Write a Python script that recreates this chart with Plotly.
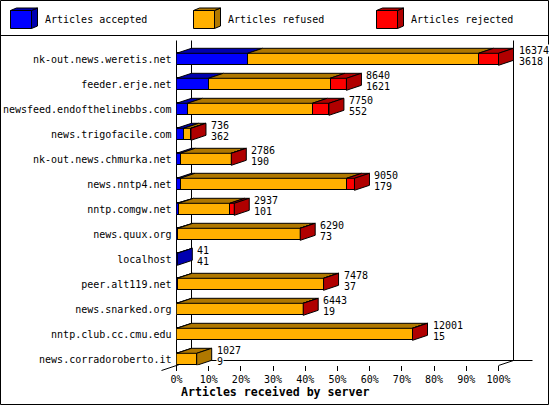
import plotly.graph_objects as go

servers = ["nk-out.news.weretis.net", "feeder.erje.net", "newsfeed.endofthelinebbs.com",
           "news.trigofacile.com", "nk-out.news.chmurka.net", "news.nntp4.net",
           "nntp.comgw.net", "news.quux.org", "localhost", "peer.alt119.net",
           "news.snarked.org", "nntp.club.cc.cmu.edu", "news.corradoroberto.it"]
received = [16374, 8640, 7750, 736, 2786, 9050, 2937, 6290, 41, 7478, 6443, 12001, 1027]
accepted = [3618, 1621, 552, 362, 190, 179, 101, 73, 41, 37, 19, 15, 9]
refused = [11739, 6185, 6353, 369, 2586, 8471, 2606, 6209, 0, 7436, 6419, 11974, 1018]
rejected = [1017, 834, 845, 5, 10, 400, 230, 8, 0, 5, 5, 12, 0]
percent_ticks = [0, 10, 20, 30, 40, 50, 60, 70, 80, 90, 100]

series_names = ["Articles accepted", "Articles refused", "Articles rejected"]
front_colors = ["#0000ff", "#ffb000", "#ff0000"]
dark_colors = ["#0000b0", "#b07800", "#b00000"]

W, H = 550, 405
FONT = "DejaVu Sans Mono"

# plot box in pixels, 100% sits at RIGHT
LEFT, RIGHT, TOP, BOTTOM = 176.5, 498.5, 40.3, 365.3
max_total = max(received)
DEPTH_X = 15 / (RIGHT - LEFT) * max_total
DEPTH_Y = 5 / 25
# axis runs on past 100% so the depth faces and the first labels are not clipped
OVERRUN = 1.15

row_y = [i + 0.76 for i in range(len(servers))]
BAR_H = 0.48


def px(x):
    return x / W


def py(y):
    return 1 - y / H


def line(x0, y0, x1, y1):
    return dict(type="line", xref="paper", yref="paper", x0=px(x0), y0=py(y0), x1=px(x1), y1=py(y1),
                line=dict(color="black", width=1), layer="below")


def poly(xs, ys, color):
    return go.Scatter(x=xs + xs[:1], y=ys + ys[:1], mode="lines", fill="toself", fillcolor=color,
                      line=dict(color="black", width=1), hoverinfo="skip", showlegend=False, cliponaxis=False)


fig = go.Figure()

stacks = [accepted, refused, rejected]
for values, name, color in zip(stacks, series_names, front_colors):
    fig.add_trace(go.Bar(y=row_y, x=values, orientation="h", width=BAR_H, name=name,
                         marker=dict(color=color, line=dict(color="black", width=1)), showlegend=False))

# top and side faces of the fake 3d bars
for i, y in enumerate(row_y):
    top = y - BAR_H / 2
    bottom = y + BAR_H / 2
    start = 0
    last_color = None
    for values, dark in zip(stacks, dark_colors):
        v = values[i]
        if v == 0:
            continue
        end = start + v
        fig.add_trace(poly([start, start + DEPTH_X, end + DEPTH_X, end],
                           [top, top - DEPTH_Y, top - DEPTH_Y, top], dark))
        start = end
        last_color = dark
    fig.add_trace(poly([start, start + DEPTH_X, start + DEPTH_X, start],
                       [top, top - DEPTH_Y, bottom - DEPTH_Y, bottom], last_color))

shapes = [
    dict(type="rect", xref="paper", yref="paper", x0=px(0.5), y0=py(0.5), x1=px(548.5), y1=py(404.5),
         line=dict(color="black", width=1), layer="below"),
    line(0.5, 35.5, 548.5, 35.5),
    line(176.5, 40.5, 176.5, 365.5),
    line(191.5, 40.5, 191.5, 360.5),
    line(513.5, 40.5, 513.5, 360.5),
    line(191.5, 360.5, 532.5, 360.5),
    line(161.5, 370.5, 191.5, 360.5),
    line(498.5, 365.5, 513.5, 360.5),
]

annotations = []

# legend drawn by hand, each swatch is a small cube
legend_x = [10.5, 193.5, 376.5]
text_x = [43, 226, 409]
for x0, tx, name, color, dark in zip(legend_x, text_x, series_names, front_colors, dark_colors):
    x1 = x0 + 21
    y0, y1 = 10.5, 28.5
    dx, dy = 6, 2.5
    side = f"M {px(x1)} {py(y0)} L {px(x1 + dx)} {py(y0 - dy)} L {px(x1 + dx)} {py(y1 - dy)} L {px(x1)} {py(y1)} Z"
    top = f"M {px(x0)} {py(y0)} L {px(x0 + dx)} {py(y0 - dy)} L {px(x1 + dx)} {py(y0 - dy)} L {px(x1)} {py(y0)} Z"
    for path in [side, top]:
        shapes.append(dict(type="path", xref="paper", yref="paper", path=path, fillcolor=dark,
                           line=dict(color="black", width=1)))
    shapes.append(dict(type="rect", xref="paper", yref="paper", x0=px(x0), y0=py(y0), x1=px(x1), y1=py(y1),
                       fillcolor=color, line=dict(color="black", width=1)))
    annotations.append(dict(text=name, xref="paper", yref="paper", x=px(tx), y=py(19.5), showarrow=False,
                            xanchor="left", yanchor="middle", font=dict(family=FONT, size=10, color="black")))

# total and accepted next to each bar
for y, total, acc in zip(row_y, received, accepted):
    for value, shift in [(total, 8.3), (acc, -2.7)]:
        annotations.append(dict(text=str(value), xref="x", yref="y", x=total + DEPTH_X, y=y, xshift=4, yshift=shift,
                                showarrow=False, xanchor="left", yanchor="middle", bgcolor="white", borderpad=0,
                                font=dict(family=FONT, size=10, color="black")))

annotations.append(dict(text="<b>Articles received by server</b>", xref="paper", yref="paper", x=px(274.5), y=py(391.5),
                        showarrow=False, xanchor="center", yanchor="middle",
                        font=dict(family=FONT, size=11.6, color="black")))

fig.update_layout(
    width=W, height=H, autosize=False, barmode="stack", bargap=0,
    paper_bgcolor="white", plot_bgcolor="white",
    margin=dict(l=0, r=0, t=0, b=0),
    font=dict(family=FONT, size=10, color="black"),
    shapes=shapes, annotations=annotations,
    xaxis=dict(domain=[px(LEFT), px(LEFT + (RIGHT - LEFT) * OVERRUN)], range=[0, max_total * OVERRUN],
               showgrid=False, zeroline=False, showline=False,
               ticks="outside", ticklen=5, tickwidth=1, tickcolor="black",
               tickvals=[p * max_total / 100 for p in percent_ticks], ticktext=[f"{p}%" for p in percent_ticks],
               automargin=False, tickfont=dict(family=FONT, size=10)),
    yaxis=dict(domain=[py(BOTTOM), py(TOP)], range=[13, 0], showgrid=False, zeroline=False, showline=False,
               ticks="", ticklabelstandoff=4, tickvals=row_y, ticktext=servers, automargin=False,
               tickfont=dict(family=FONT, size=10)),
)

# the page has a default 8px body margin, drop it so pixels line up
fig.write_html("out.html", config=dict(displayModeBar=False),
               post_script="document.body.style.margin='0';")
